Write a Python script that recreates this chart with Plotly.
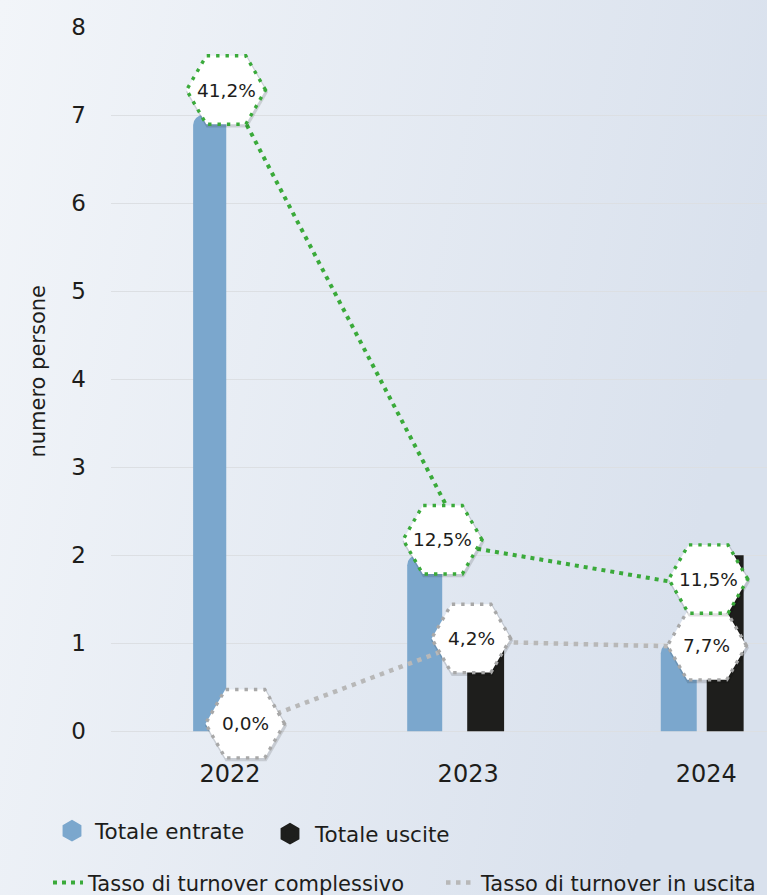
import base64
import math
import plotly.graph_objects as go

# ---------------- data ----------------
years = ["2022", "2023", "2024"]
totale_entrate = [7, 2, 1]
totale_uscite = [0, 1, 2]
turnover_compl_pos = [7.25, 2.09, 1.63]
turnover_compl_labels = ["41,2%", "12,5%", "11,5%"]
turnover_uscita_pos = [0.0, 1.02, 0.955]
turnover_uscita_labels = ["0,0%", "4,2%", "7,7%"]
y_ticks = [0, 1, 2, 3, 4, 5, 6, 7, 8]

# ---------------- style ----------------
W, H = 767, 895
ML, MR, MT = 111, 0, 27
Y0, Y1 = -0.35, 8
PLOT_H = (731 - 27) / 8 * (Y1 - Y0)
MB = H - MT - PLOT_H
PLOT_W = W - ML - MR
X0 = -0.5
X1 = X0 + PLOT_W / 238.1

FONT = "DejaVu Sans"
TXT = "#1d1d1b"
BLUE = "#7ba7cd"
BLACK = "#1e1e1c"
GREEN = "#3aaa3a"
GRAY = "#b8b8b8"

blue_offset = [-0.155, -0.256, -0.191]
blue_width = [0.139, 0.147, 0.151]
black_offset = [-0.004, -0.004, 0.002]
black_width = [0.155, 0.155, 0.155]

compl_shift = [(-4, 3), (-25.6, 7.5), (2, 8.6)]
uscita_shift = [(15, 7.5), (3, 3), (0.7, 1.5)]
HEX_R = 39.5

xs = list(range(len(years)))

fig = go.Figure()

fig.add_trace(go.Bar(x=xs, y=totale_entrate, offset=blue_offset, width=blue_width,
                     marker=dict(color=BLUE, cornerradius=10, line=dict(width=0)),
                     name="Totale entrate", showlegend=False, legendgroup="e",
                     hoverinfo="skip"))
fig.add_trace(go.Bar(x=xs, y=totale_uscite, offset=black_offset, width=black_width,
                     marker=dict(color=BLACK, line=dict(width=0)),
                     name="Totale uscite", showlegend=False, legendgroup="u",
                     hoverinfo="skip"))

# legend-only hexagon entries for bars
fig.add_trace(go.Scatter(x=[None], y=[None], mode="markers", name="Totale entrate",
                         legendgroup="e", legend="legend",
                         marker=dict(symbol="hexagon", size=16, color=BLUE,
                                     line=dict(color=BLUE, width=5))))
fig.add_trace(go.Scatter(x=[None], y=[None], mode="markers", name="Totale uscite",
                         legendgroup="u", legend="legend4",
                         marker=dict(symbol="hexagon", size=16, color=BLACK,
                                     line=dict(color=BLACK, width=5))))

fig.add_trace(go.Scatter(x=xs, y=turnover_compl_pos, mode="lines",
                         name="Tasso di turnover complessivo", legend="legend2",
                         line=dict(color=GREEN, width=4, dash="4px,5px"),
                         cliponaxis=False, hoverinfo="skip"))
fig.add_trace(go.Scatter(x=xs, y=turnover_uscita_pos, mode="lines",
                         name="Tasso di turnover in uscita", legend="legend3",
                         line=dict(color=GRAY, width=4.5, dash="4.5px,5.5px"),
                         cliponaxis=False, hoverinfo="skip"))


def hex_path(dx, dy, r):
    pts = []
    for k in range(6):
        a = math.radians(60 * k)
        pts.append((dx + r * math.cos(a), dy + r * math.sin(a)))
    return "M " + " L ".join(f"{px:.2f},{py:.2f}" for px, py in pts) + " Z"


shapes = []
annotations = []
for pos_list, labels, shifts, col in [
    (turnover_uscita_pos, turnover_uscita_labels, uscita_shift, "#a8a8a8"),
    (turnover_compl_pos, turnover_compl_labels, compl_shift, GREEN),
]:
    for i, (v, lab) in enumerate(zip(pos_list, labels)):
        dx, dy = shifts[i]
        common = dict(type="path", xref="x", yref="y", xsizemode="pixel",
                      ysizemode="pixel", xanchor=xs[i], yanchor=v, layer="above")
        shapes.append(dict(common, path=hex_path(dx + 1, dy - 2, HEX_R + 1.5),
                           fillcolor="rgba(0,0,0,0.13)", line=dict(width=0)))
        shapes.append(dict(common, path=hex_path(dx, dy, HEX_R),
                           fillcolor="white",
                           line=dict(color=col, width=3.4, dash="3.4px,6px")))
        annotations.append(dict(x=xs[i], y=v, xref="x", yref="y", text=lab,
                                showarrow=False, xshift=dx, yshift=dy,
                                font=dict(family=FONT, size=18.5, color=TXT)))

# y-axis title
annotations.append(dict(x=(38 - ML) / PLOT_W, y=4.085, xref="paper", yref="y",
                        xanchor="center", yanchor="middle",
                        text="numero persone", textangle=-90, showarrow=False,
                        font=dict(family=FONT, size=21, color=TXT)))

# background gradient
svg = (f'<svg xmlns="http://www.w3.org/2000/svg" width="{W}" height="{H}" '
       f'viewBox="0 0 {W} {H}" preserveAspectRatio="none">'
       '<defs><linearGradient id="g" x1="0" y1="0" x2="1" y2="0.25">'
       '<stop offset="0" stop-color="#f2f5f9"/>'
       '<stop offset="1" stop-color="#d9e1ed"/></linearGradient></defs>'
       f'<rect width="{W}" height="{H}" fill="url(#g)"/></svg>')
src = "data:image/svg+xml;base64," + base64.b64encode(svg.encode()).decode()


def px_x(p):
    return (p - ML) / PLOT_W


def px_y(p):
    return (MT + PLOT_H - p) / PLOT_H


def leg(xpx, ypx, iw, size=21):
    return dict(orientation="h", x=px_x(xpx), xanchor="left", y=px_y(ypx),
                yanchor="top", bgcolor="rgba(0,0,0,0)",
                font=dict(family=FONT, size=size, color=TXT), itemwidth=iw)


fig.update_layout(
    width=W, height=H,
    margin=dict(l=ML, r=MR, t=MT, b=MB, autoexpand=False),
    paper_bgcolor="#e6ebf3", plot_bgcolor="rgba(0,0,0,0)",
    barmode="overlay",
    font=dict(family=FONT, color=TXT),
    images=[dict(source=src, xref="paper", yref="paper",
                 x=-ML / PLOT_W, y=1 + MT / PLOT_H,
                 sizex=W / PLOT_W, sizey=H / PLOT_H,
                 xanchor="left", yanchor="top", sizing="stretch", layer="below")],
    xaxis=dict(range=[X0, X1], tickvals=xs, ticktext=years, showgrid=False,
               zeroline=False, showline=False, ticks="", ticklabelstandoff=-5,
               tickfont=dict(family=FONT, size=24, color=TXT), fixedrange=True),
    yaxis=dict(range=[Y0, Y1], tickvals=y_ticks, showgrid=True,
               gridcolor="#dcdfe3", gridwidth=1.2, zeroline=False, showline=False,
               ticks="", ticklabelstandoff=24,
               tickfont=dict(family=FONT, size=23, color=TXT), fixedrange=True),
    shapes=shapes,
    annotations=annotations,
    legend=leg(49, 810, 36, 21.5),
    legend4=leg(265, 813, 40, 21.5),
    legend2=leg(48, 862, 30),
    legend3=leg(441, 862, 30),
)

fig.write_html("out.html", config={"displayModeBar": False},
               post_script="document.body.style.margin='0';")
